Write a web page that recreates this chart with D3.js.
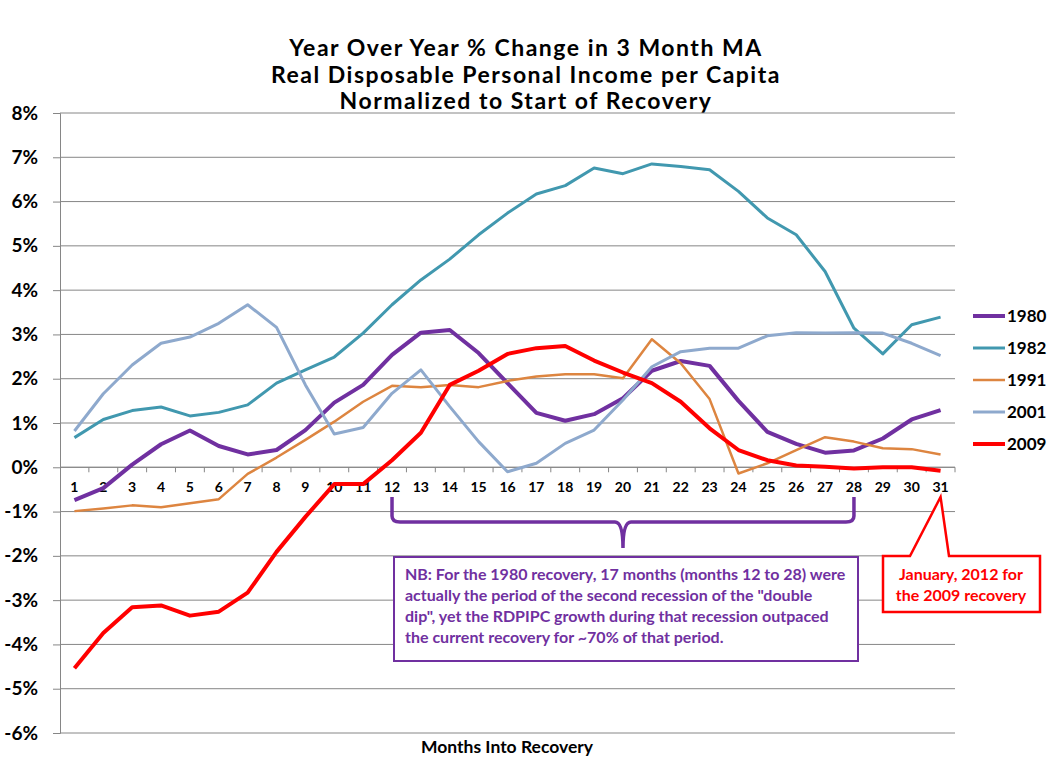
<!DOCTYPE html>
<html>
<head>
<meta charset="utf-8">
<script src="https://cdn.jsdelivr.net/npm/d3@7"></script>
<style>
  body { margin: 0; background: #fff; }
  text { font-family: Lato, "Open Sans", sans-serif; }
</style>
</head>
<body>
<svg id="chart" width="1058" height="764"></svg>
<script>
// months into recovery
var months = d3.range(1, 32);

// year over year % change, one array per recovery
var s1980 = [-0.74, -0.47, 0.06, 0.52, 0.83, 0.48, 0.29, 0.39, 0.84, 1.46, 1.86, 2.54, 3.04, 3.10, 2.58, 1.90,
             1.23, 1.05, 1.20, 1.56, 2.18, 2.40, 2.29, 1.50, 0.80, 0.53, 0.33, 0.38, 0.65, 1.08, 1.29];
var s1982 = [0.67, 1.08, 1.28, 1.36, 1.16, 1.24, 1.41, 1.90, 2.20, 2.49, 3.03, 3.67, 4.23, 4.70, 5.25, 5.74,
             6.17, 6.36, 6.76, 6.63, 6.85, 6.79, 6.72, 6.23, 5.63, 5.25, 4.42, 3.14, 2.56, 3.22, 3.39];
var s1991 = [-0.99, -0.93, -0.86, -0.90, -0.81, -0.72, -0.15, 0.22, 0.62, 1.03, 1.48, 1.84, 1.81, 1.86, 1.81, 1.95,
             2.05, 2.10, 2.10, 2.01, 2.89, 2.35, 1.54, -0.14, 0.09, 0.39, 0.68, 0.58, 0.43, 0.41, 0.29];
var s2001 = [0.82, 1.66, 2.31, 2.80, 2.94, 3.25, 3.67, 3.16, 1.86, 0.75, 0.90, 1.67, 2.20, 1.37, 0.58, -0.10,
             0.09, 0.54, 0.84, 1.52, 2.27, 2.61, 2.69, 2.69, 2.97, 3.04, 3.03, 3.04, 3.03, 2.80, 2.52];
var s2009 = [-4.54, -3.74, -3.16, -3.12, -3.35, -3.26, -2.83, -1.91, -1.12, -0.38, -0.38, 0.16, 0.78, 1.86, 2.18, 2.56,
             2.69, 2.74, 2.41, 2.14, 1.90, 1.48, 0.88, 0.39, 0.16, 0.04, 0.01, -0.03, 0.00, 0.00, -0.08];

var seriesNames = ["1980", "1982", "1991", "2001", "2009"];
var seriesValues = [s1980, s1982, s1991, s2001, s2009];
var seriesColors = ["#7030A0", "#4198AF", "#DD8540", "#8EA9CD", "#FF0000"];
var seriesWidths = [4, 3, 2.5, 3, 4];

var yTicks = d3.range(-6, 9, 1);

var titleLines = ["Year Over Year % Change in 3 Month MA",
                  "Real Disposable Personal Income per Capita",
                  "Normalized to Start of Recovery"];
var noteLines = ["NB: For the 1980 recovery, 17 months (months 12 to 28) were",
                 "actually the period of the second recession of the \"double",
                 "dip\", yet the RDPIPC growth during that recession outpaced",
                 "the current recovery for ~70% of that period."];
var calloutLines = ["January, 2012 for", "the 2009 recovery"];

function drawChart() {
    var svg = d3.select("#chart");

    var plotLeft = 60, plotRight = 955, plotTop = 113, plotBottom = 733;

    var x = d3.scaleBand().domain(months).range([plotLeft, plotRight]);
    var y = d3.scaleLinear().domain([-6, 8]).range([plotBottom, plotTop]);
    var xc = function (m) { return x(m) + x.bandwidth() / 2; };

    // title
    svg.append("g").selectAll("text")
        .data(titleLines)
        .enter().append("text")
        .attr("x", 526)
        .attr("y", function (d, i) { return 56 + i * 26.5; })
        .attr("text-anchor", "middle")
        .style("font-size", "23px")
        .style("letter-spacing", "1.5px")
        .style("font-weight", "bold")
        .text(function (d) { return d; });

    // gridlines
    svg.append("g").selectAll("line")
        .data(yTicks)
        .enter().append("line")
        .attr("x1", plotLeft).attr("x2", plotRight)
        .attr("y1", function (d) { return y(d); })
        .attr("y2", function (d) { return y(d); })
        .style("stroke", "#868686")
        .style("stroke-width", 1);

    // y axis
    var yAxis = svg.append("g")
        .attr("transform", "translate(" + plotLeft + ",0)")
        .call(d3.axisLeft(y).tickValues(yTicks).tickSize(7).tickPadding(15)
            .tickFormat(function (d) { return d + "%"; }));
    yAxis.selectAll("path, line").style("stroke", "#868686");
    yAxis.selectAll("text")
        .style("font-size", "19px")
        .style("font-weight", "bold")
        .style("fill", "#000")
        .style("font-family", "Lato, sans-serif");

    // x axis on the zero line
    var xAxisG = svg.append("g").attr("transform", "translate(0," + y(0) + ")");
    xAxisG.append("line")
        .attr("x1", plotLeft).attr("x2", plotRight)
        .style("stroke", "#868686");
    xAxisG.selectAll("line.tick")
        .data(months)
        .enter().append("line")
        .attr("class", "tick")
        .attr("x1", function (d) { return x(d) + x.bandwidth(); })
        .attr("x2", function (d) { return x(d) + x.bandwidth(); })
        .attr("y1", 0).attr("y2", 5)
        .style("stroke", "#868686");
    xAxisG.selectAll("text")
        .data(months)
        .enter().append("text")
        .attr("x", function (d) { return xc(d); })
        .attr("y", 25)
        .attr("text-anchor", "middle")
        .style("font-size", "14px")
        .style("font-weight", "bold")
        .text(function (d) { return d; });

    svg.append("text")
        .attr("x", 507).attr("y", 753)
        .attr("text-anchor", "middle")
        .style("font-size", "17.5px")
        .style("font-weight", "bold")
        .text("Months Into Recovery");

    // series lines
    var line = d3.line()
        .x(function (d, i) { return xc(months[i]); })
        .y(function (d) { return y(d); });

    seriesValues.forEach(function (vals, k) {
        svg.append("path")
            .datum(vals)
            .attr("d", line)
            .style("fill", "none")
            .style("stroke", seriesColors[k])
            .style("stroke-width", seriesWidths[k])
            .style("stroke-linejoin", "round");
    });

    // legend
    var legend = svg.append("g").selectAll("g")
        .data(seriesNames)
        .enter().append("g")
        .attr("transform", function (d, i) { return "translate(973," + (316 + i * 32) + ")"; });
    legend.append("line")
        .attr("x1", 0).attr("x2", 32)
        .style("stroke", function (d, i) { return seriesColors[i]; })
        .style("stroke-width", function (d, i) { return seriesWidths[i]; });
    legend.append("text")
        .attr("x", 34).attr("y", 6)
        .style("font-size", "17px")
        .style("font-weight", "bold")
        .text(function (d) { return d; });

    // brace over months 12 to 28
    var bx1 = xc(12), bx2 = xc(28), bmid = (bx1 + bx2) / 2;
    var bTop = 497, bLine = 522, bTip = 548;
    svg.append("path")
        .attr("d", "M" + bx1 + "," + bTop + " L" + bx1 + "," + (bLine - 6) +
            " Q" + bx1 + "," + bLine + " " + (bx1 + 8) + "," + bLine +
            " L" + (bmid - 8) + "," + bLine +
            " Q" + bmid + "," + bLine + " " + bmid + "," + bTip +
            " Q" + bmid + "," + bLine + " " + (bmid + 8) + "," + bLine +
            " L" + (bx2 - 8) + "," + bLine +
            " Q" + bx2 + "," + bLine + " " + bx2 + "," + (bLine - 6) +
            " L" + bx2 + "," + bTop)
        .style("fill", "none")
        .style("stroke", "#7030A0")
        .style("stroke-width", 3.5);

    // note box
    svg.append("rect")
        .attr("x", 394).attr("y", 557)
        .attr("width", 464).attr("height", 104)
        .style("fill", "#fff")
        .style("stroke", "#7030A0")
        .style("stroke-width", 2);
    svg.append("g").selectAll("text")
        .data(noteLines)
        .enter().append("text")
        .attr("x", 405)
        .attr("y", function (d, i) { return 580 + i * 21; })
        .style("font-size", "16px")
        .style("font-weight", "bold")
        .style("fill", "#7030A0")
        .text(function (d) { return d; });

    // callout for month 31 of 2009
    var tipX = xc(31);
    svg.append("path")
        .attr("d", "M883,556 L910,556 L" + tipX + ",497 L949,556 L1040,556 L1040,612 L883,612 Z")
        .style("fill", "#fff")
        .style("stroke", "#FF0000")
        .style("stroke-width", 2.5);
    svg.append("g").selectAll("text")
        .data(calloutLines)
        .enter().append("text")
        .attr("x", 961)
        .attr("y", function (d, i) { return 580 + i * 21; })
        .attr("text-anchor", "middle")
        .style("font-size", "16px")
        .style("font-weight", "bold")
        .style("fill", "#FF0000")
        .text(function (d) { return d; });
}

drawChart();
</script>
</body>
</html>
